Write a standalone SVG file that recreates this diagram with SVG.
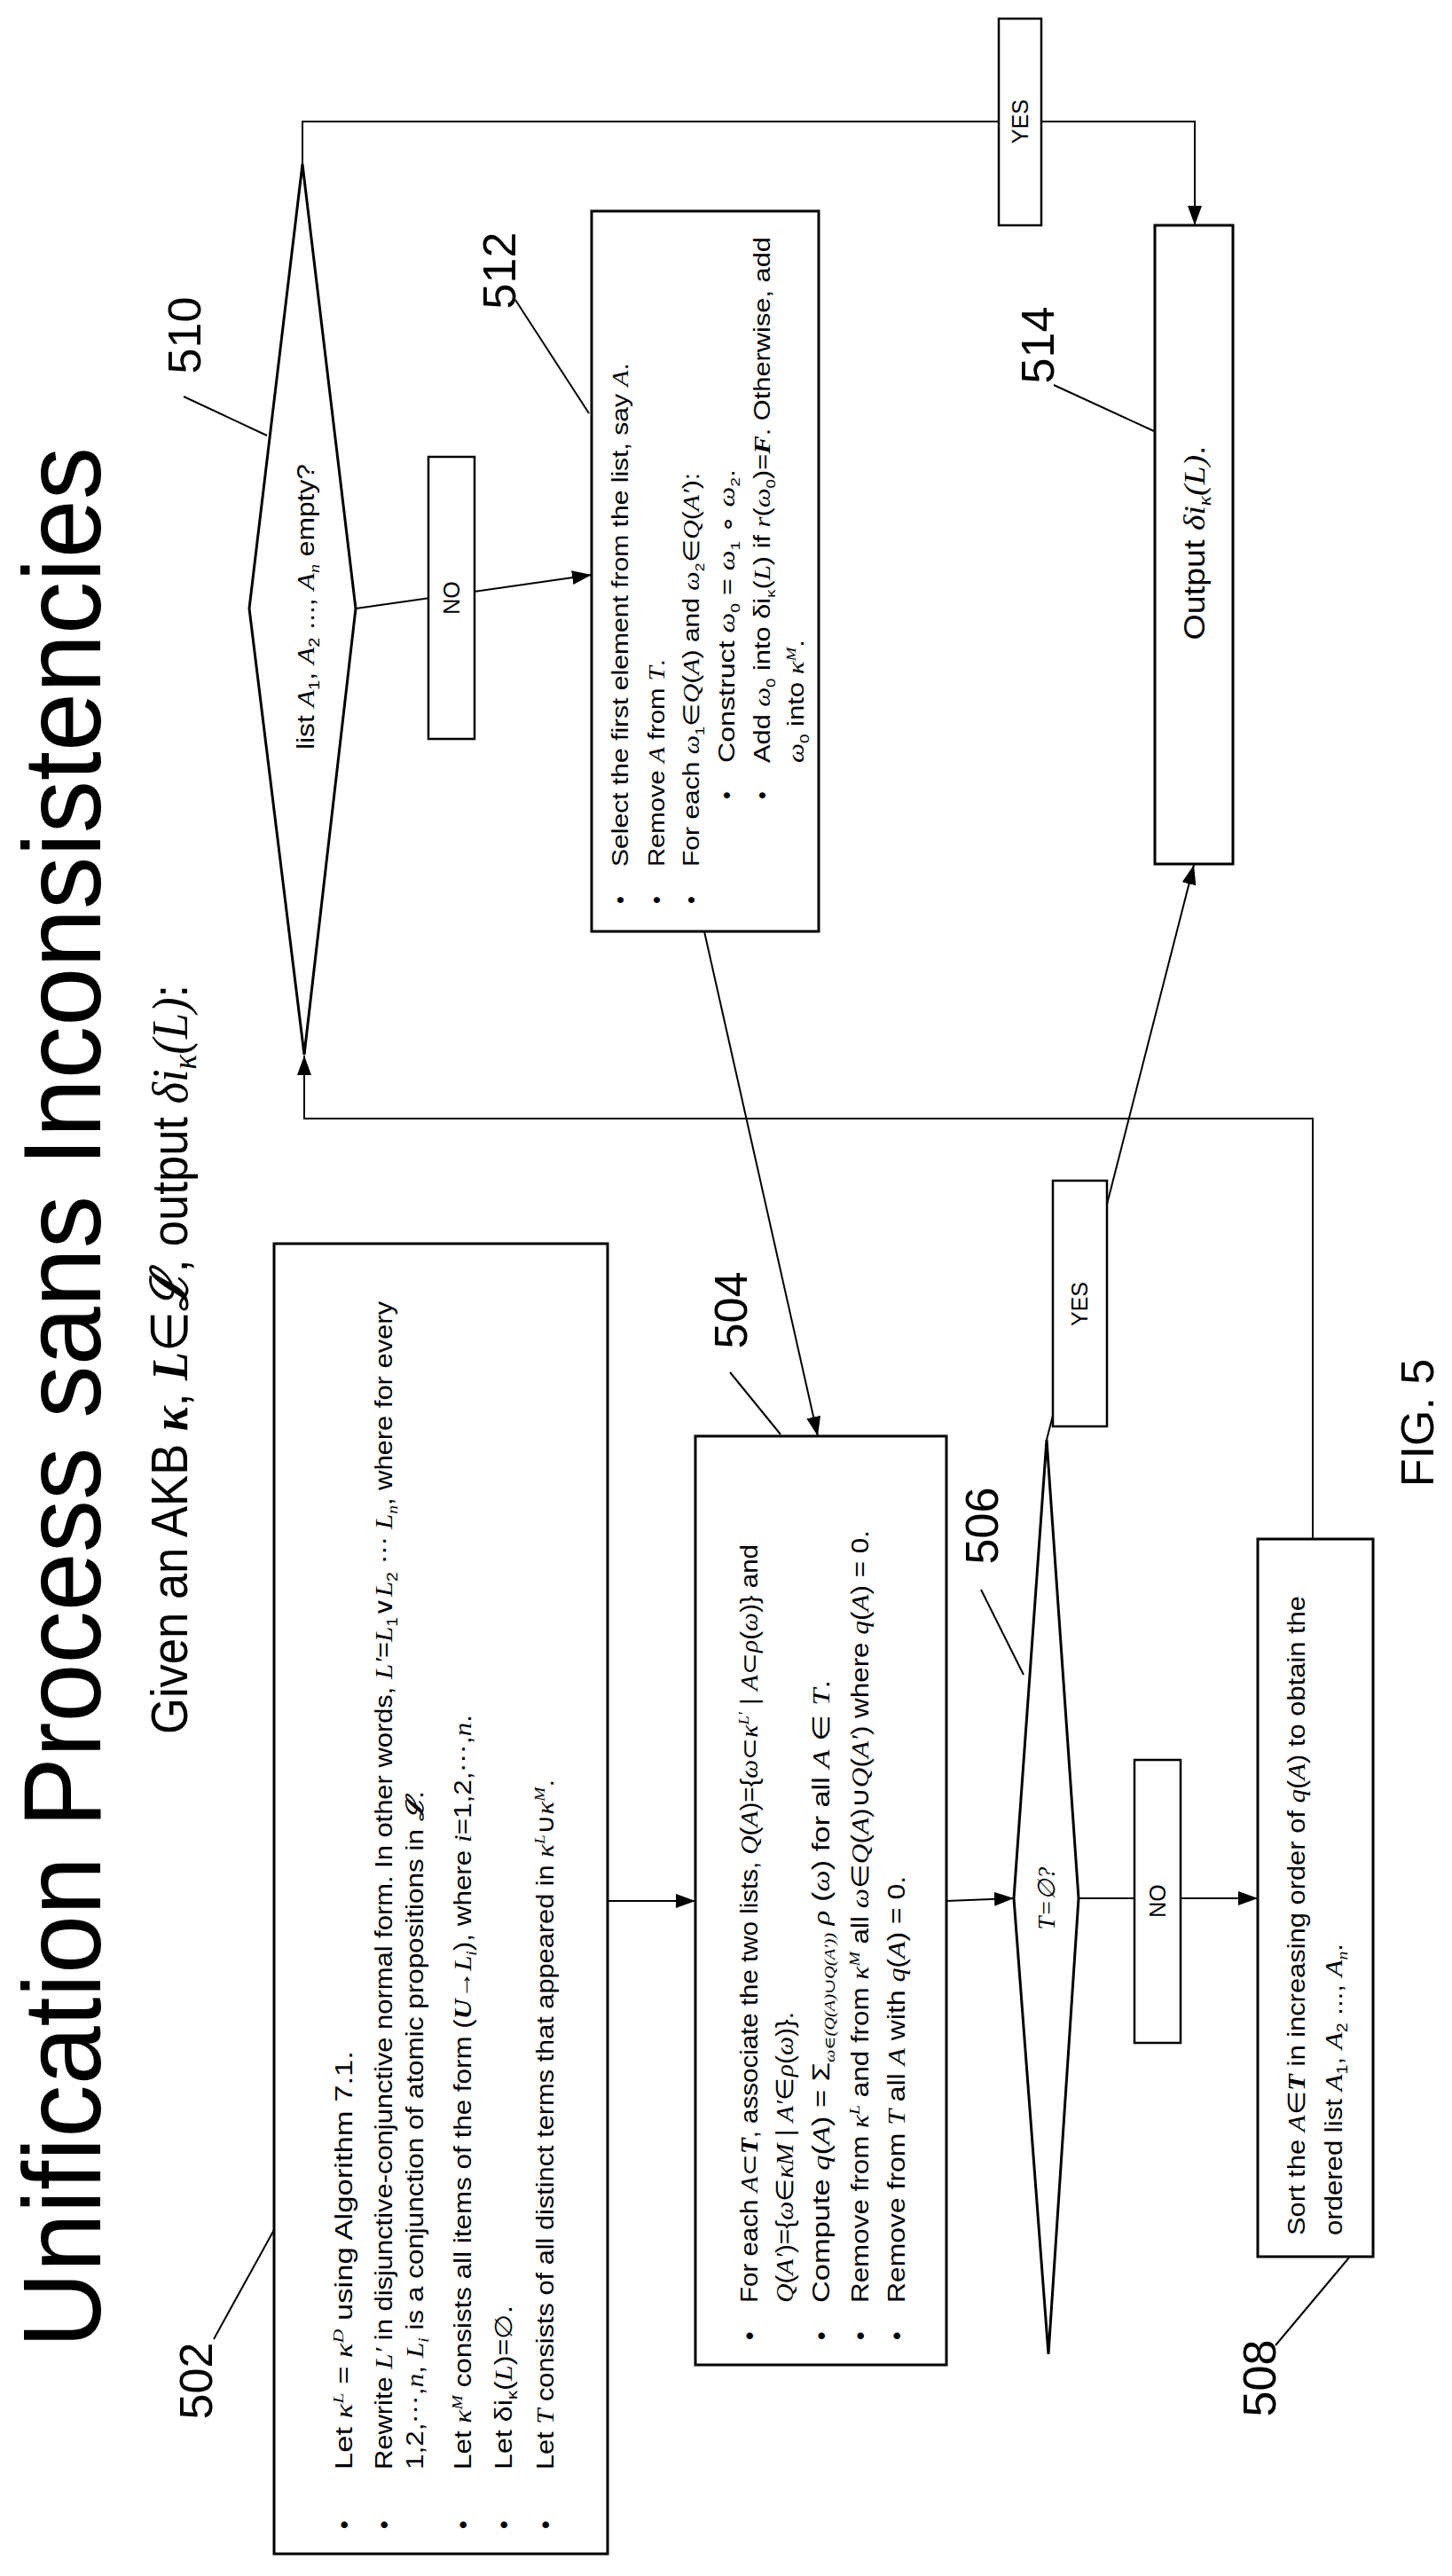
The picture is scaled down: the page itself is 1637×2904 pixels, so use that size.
<svg xmlns="http://www.w3.org/2000/svg" width="1637" height="2904" viewBox="0 0 1637 2904">
<style>
text{font-family:"Liberation Sans",Arial,sans-serif;fill:#000}
.box{fill:#fff;stroke:#000;stroke-width:3}
.lab{fill:#fff;stroke:#000;stroke-width:2.5}
.ln{fill:none;stroke:#000;stroke-width:2}
.t{font-size:27px}
.s{font-size:25px}
.num{font-size:52px;text-anchor:middle}
.m{font-family:"Liberation Serif","DejaVu Serif",serif;font-style:italic}
.mb{font-family:"Liberation Serif","DejaVu Serif",serif;font-style:italic;font-weight:bold}
.c{text-anchor:middle}
</style>
<defs>
<marker id="ah" markerUnits="userSpaceOnUse" markerWidth="24" markerHeight="16" refX="22" refY="8" orient="auto"><path d="M0,0 L22,8 L0,16 Z" fill="#000"/></marker>
</defs>
<rect width="1637" height="2904" fill="#fff"/>

<g id="title">
<text x="113" y="2647" transform="rotate(-90 113 2647)" font-size="124" textLength="2143" lengthAdjust="spacingAndGlyphs">Unification Process sans Inconsistencies</text>
<text x="211" y="1955" transform="rotate(-90 211 1955)" font-size="58" textLength="845" lengthAdjust="spacingAndGlyphs">Given an AKB <tspan class="mb">κ</tspan>, <tspan class="mb">L</tspan>∈<tspan class="mb">ℒ</tspan>, output <tspan class="m">δi</tspan><tspan class="m" font-size="38" dy="10">κ</tspan><tspan class="m" dy="-10">(L)</tspan>:</text>
</g>

<g id="connectors">
<line class="ln" x1="685" y1="2143" x2="784" y2="2143" marker-end="url(#ah)"/>
<line class="ln" x1="1067" y1="2143" x2="1143" y2="2140" marker-end="url(#ah)"/>
<line class="ln" x1="1216" y1="2140" x2="1418" y2="2140" marker-end="url(#ah)"/>
<polyline class="ln" points="1480,1735 1480,1261 343,1261 343,1190" marker-end="url(#ah)"/>
<line class="ln" x1="1180" y1="1623" x2="1346" y2="975" marker-end="url(#ah)"/>
<polyline class="ln" points="341,185 341,137 1347,137 1347,254" marker-end="url(#ah)"/>
<line class="ln" x1="401" y1="686" x2="667" y2="648" marker-end="url(#ah)"/>
<line class="ln" x1="794" y1="1050" x2="922" y2="1619" marker-end="url(#ah)"/>
<line class="ln" x1="241" y1="2637" x2="316" y2="2501"/>
<line class="ln" x1="823" y1="1547" x2="880" y2="1617"/>
<line class="ln" x1="1106" y1="1792" x2="1154" y2="1888"/>
<line class="ln" x1="1438" y1="2644" x2="1521" y2="2545"/>
<line class="ln" x1="207" y1="447" x2="301" y2="491"/>
<line class="ln" x1="581" y1="338" x2="664" y2="466"/>
<line class="ln" x1="1188" y1="434" x2="1301" y2="486"/>
</g>

<g id="n502">
<rect class="box" x="309" y="1402" width="376" height="1477"/>
<text class="num" x="239" y="2684" transform="rotate(-90 239 2684)">502</text>
<g class="t">
<text x="397" y="2851" transform="rotate(-90 397 2851)">•</text>
<text x="442" y="2851" transform="rotate(-90 442 2851)">•</text>
<text x="531" y="2851" transform="rotate(-90 531 2851)">•</text>
<text x="577" y="2851" transform="rotate(-90 577 2851)">•</text>
<text x="624" y="2851" transform="rotate(-90 624 2851)">•</text>
<text x="397" y="2784" transform="rotate(-90 397 2784)" textLength="472" lengthAdjust="spacingAndGlyphs">Let <tspan class="m">κ</tspan><tspan class="m" font-size="17" dy="-10">L</tspan><tspan dy="10"> = </tspan><tspan class="m">κ</tspan><tspan class="m" font-size="17" dy="-10">D</tspan><tspan dy="10"> using Algorithm 7.1.</tspan></text>
<text x="442" y="2784" transform="rotate(-90 442 2784)" textLength="1317" lengthAdjust="spacingAndGlyphs">Rewrite <tspan class="m">L′</tspan> in disjunctive-conjunctive normal form. In other words, <tspan class="m">L′</tspan>=<tspan class="m">L</tspan><tspan font-size="17" dy="6">1</tspan><tspan dy="-6">∨</tspan><tspan class="m">L</tspan><tspan font-size="17" dy="6">2</tspan><tspan dy="-6"> ⋯ </tspan><tspan class="m">L</tspan><tspan class="m" font-size="17" dy="6">n</tspan><tspan dy="-6">, where for every</tspan></text>
<text x="477" y="2784" transform="rotate(-90 477 2784)" textLength="765" lengthAdjust="spacingAndGlyphs">1,2,⋯,<tspan class="m">n</tspan>, <tspan class="m">L</tspan><tspan class="m" font-size="17" dy="6">i</tspan><tspan dy="-6"> is a conjunction of atomic propositions in </tspan><tspan class="mb">ℒ</tspan>.</text>
<text x="531" y="2784" transform="rotate(-90 531 2784)" textLength="851" lengthAdjust="spacingAndGlyphs">Let <tspan class="m">κ</tspan><tspan class="m" font-size="17" dy="-10">M</tspan><tspan dy="10"> consists all items of the form (</tspan><tspan class="mb">U</tspan>→<tspan class="m">L</tspan><tspan class="m" font-size="17" dy="6">i</tspan><tspan dy="-6">), where </tspan><tspan class="m">i</tspan>=1,2,⋯,<tspan class="m">n</tspan>.</text>
<text x="577" y="2784" transform="rotate(-90 577 2784)" textLength="185" lengthAdjust="spacingAndGlyphs">Let δi<tspan font-size="17" dy="6">κ</tspan><tspan dy="-6">(</tspan><tspan class="m">L</tspan>)=∅.</text>
<text x="624" y="2784" transform="rotate(-90 624 2784)" textLength="778" lengthAdjust="spacingAndGlyphs">Let <tspan class="m">T</tspan> consists of all distinct terms that appeared in <tspan class="m">κ</tspan><tspan class="m" font-size="17" dy="-10">L</tspan><tspan dy="10">∪</tspan><tspan class="m">κ</tspan><tspan class="m" font-size="17" dy="-10">M</tspan><tspan dy="10">.</tspan></text>
</g>
</g>

<g id="n504">
<rect class="box" x="784" y="1619" width="283" height="1047"/>
<text class="num" x="842" y="1477" transform="rotate(-90 842 1477)">504</text>
<g class="t">
<text x="854" y="2638" transform="rotate(-90 854 2638)">•</text>
<text x="935" y="2638" transform="rotate(-90 935 2638)">•</text>
<text x="979" y="2638" transform="rotate(-90 979 2638)">•</text>
<text x="1020" y="2638" transform="rotate(-90 1020 2638)">•</text>
<text x="854" y="2596" transform="rotate(-90 854 2596)" textLength="855" lengthAdjust="spacingAndGlyphs">For each <tspan class="m">A</tspan>⊂<tspan class="mb">T</tspan>, associate the two lists, <tspan class="m">Q</tspan>(<tspan class="m">A</tspan>)={<tspan class="m">ω</tspan>⊂<tspan class="m">κ</tspan><tspan class="m" font-size="17" dy="-10">L′</tspan><tspan dy="10"> | </tspan><tspan class="m">A</tspan>⊂<tspan class="m">ρ</tspan>(<tspan class="m">ω</tspan>)} and</text>
<text x="894" y="2596" transform="rotate(-90 894 2596)" textLength="328" lengthAdjust="spacingAndGlyphs"><tspan class="m">Q</tspan>(<tspan class="m">A′</tspan>)={<tspan class="m">ω</tspan>∈<tspan class="m">κM</tspan> | <tspan class="m">A′</tspan>∈<tspan class="m">ρ</tspan>(<tspan class="m">ω</tspan>)}.</text>
<text x="935" y="2596" transform="rotate(-90 935 2596)" textLength="702" lengthAdjust="spacingAndGlyphs">Compute <tspan class="m">q</tspan>(<tspan class="m">A</tspan>) = Σ<tspan class="m" font-size="16" dy="6">ω∈(Q(A)∪Q(A′))</tspan><tspan class="m" dy="-6"> ρ</tspan> (<tspan class="m">ω</tspan>) for all <tspan class="m">A</tspan> ∈ <tspan class="m">T</tspan>.</text>
<text x="979" y="2596" transform="rotate(-90 979 2596)" textLength="871" lengthAdjust="spacingAndGlyphs">Remove from <tspan class="m">κ</tspan><tspan class="m" font-size="17" dy="-10">L</tspan><tspan dy="10"> and from </tspan><tspan class="m">κ</tspan><tspan class="m" font-size="17" dy="-10">M</tspan><tspan dy="10"> all </tspan><tspan class="m">ω</tspan>∈<tspan class="m">Q</tspan>(<tspan class="m">A</tspan>)∪<tspan class="m">Q</tspan>(<tspan class="m">A′</tspan>) where <tspan class="m">q</tspan>(<tspan class="m">A</tspan>) = 0.</text>
<text x="1020" y="2596" transform="rotate(-90 1020 2596)" textLength="481" lengthAdjust="spacingAndGlyphs">Remove from <tspan class="m">T</tspan> all <tspan class="m">A</tspan> with <tspan class="m">q</tspan>(<tspan class="m">A</tspan>) = 0.</text>
</g>
</g>

<g id="n506">
<polygon class="box" points="1180,1623 1216,2140 1182,2654 1143,2140"/>
<text class="t c m" x="1189" y="2140" transform="rotate(-90 1189 2140)">T=∅?</text>
<text class="num" x="1125" y="1720" transform="rotate(-90 1125 1720)">506</text>
</g>

<g id="yes506">
<rect class="lab" x="1187" y="1331" width="61" height="277"/>
<text class="s c" x="1226" y="1470" transform="rotate(-90 1226 1470)">YES</text>
</g>

<g id="no506">
<rect class="lab" x="1279" y="1984" width="52" height="319"/>
<text class="s c" x="1314" y="2143" transform="rotate(-90 1314 2143)">NO</text>
</g>

<g id="n508">
<rect class="box" x="1418" y="1735" width="130" height="809"/>
<text class="num" x="1438" y="2681" transform="rotate(-90 1438 2681)">508</text>
<text class="t" x="1471" y="2520" transform="rotate(-90 1471 2520)" textLength="721" lengthAdjust="spacingAndGlyphs">Sort the <tspan class="m">A</tspan>∈<tspan class="mb">T</tspan> in increasing order of <tspan class="m">q</tspan>(<tspan class="m">A</tspan>) to obtain the</text>
<text class="t" x="1513" y="2520" transform="rotate(-90 1513 2520)" textLength="329" lengthAdjust="spacingAndGlyphs">ordered list <tspan class="m">A</tspan><tspan font-size="17" dy="6">1</tspan><tspan dy="-6">, </tspan><tspan class="m">A</tspan><tspan font-size="17" dy="6">2</tspan><tspan dy="-6"> ..., </tspan><tspan class="m">A</tspan><tspan class="m" font-size="17" dy="6">n</tspan><tspan dy="-6">.</tspan></text>
</g>

<g id="n510">
<polygon class="box" points="341,185 401,686 343,1189 281,686"/>
<text class="c" font-size="27" x="354" y="684" transform="rotate(-90 354 684)" textLength="322" lengthAdjust="spacingAndGlyphs">list <tspan class="m">A</tspan><tspan font-size="17" dy="6">1</tspan><tspan dy="-6">, </tspan><tspan class="m">A</tspan><tspan font-size="17" dy="6">2</tspan><tspan dy="-6"> ..., </tspan><tspan class="m">A</tspan><tspan class="m" font-size="17" dy="6">n</tspan><tspan dy="-6">  empty?</tspan></text>
<text class="num" x="226" y="378" transform="rotate(-90 226 378)">510</text>
</g>

<g id="yes510">
<rect class="lab" x="1126" y="21" width="48" height="233"/>
<text class="s c" x="1159" y="137" transform="rotate(-90 1159 137)">YES</text>
</g>

<g id="no510">
<rect class="lab" x="483" y="515" width="52" height="318"/>
<text class="s c" x="518" y="674" transform="rotate(-90 518 674)">NO</text>
</g>

<g id="n512">
<rect class="box" x="667" y="238" width="256" height="812"/>
<text class="num" x="581" y="305" transform="rotate(-90 581 305)">512</text>
<g class="s">
<text x="708" y="1019" transform="rotate(-90 708 1019)">•</text>
<text x="749" y="1019" transform="rotate(-90 749 1019)">•</text>
<text x="788" y="1019" transform="rotate(-90 788 1019)">•</text>
<text x="828" y="901" transform="rotate(-90 828 901)">•</text>
<text x="868" y="901" transform="rotate(-90 868 901)">•</text>
<text x="708" y="977" transform="rotate(-90 708 977)" textLength="568" lengthAdjust="spacingAndGlyphs">Select the first element from the list, say <tspan class="m">A</tspan>.</text>
<text x="749" y="977" transform="rotate(-90 749 977)" textLength="234" lengthAdjust="spacingAndGlyphs">Remove <tspan class="m">A</tspan> from <tspan class="m">T</tspan>.</text>
<text x="788" y="977" transform="rotate(-90 788 977)" textLength="444" lengthAdjust="spacingAndGlyphs">For each <tspan class="m">ω</tspan><tspan font-size="15" dy="6">1</tspan><tspan dy="-6">∈</tspan><tspan class="m">Q</tspan>(<tspan class="m">A</tspan>) and <tspan class="m">ω</tspan><tspan font-size="15" dy="6">2</tspan><tspan dy="-6">∈</tspan><tspan class="m">Q</tspan>(<tspan class="m">A′</tspan>):</text>
<text x="828" y="860" transform="rotate(-90 828 860)" textLength="331" lengthAdjust="spacingAndGlyphs">Construct <tspan class="m">ω</tspan><tspan font-size="15" dy="6">0</tspan><tspan dy="-6"> = </tspan><tspan class="m">ω</tspan><tspan font-size="15" dy="6">1</tspan><tspan dy="-6"> ∘ </tspan><tspan class="m">ω</tspan><tspan font-size="15" dy="6">2</tspan><tspan dy="-6">.</tspan></text>
<text x="868" y="860" transform="rotate(-90 868 860)" textLength="593" lengthAdjust="spacingAndGlyphs">Add <tspan class="m">ω</tspan><tspan font-size="15" dy="6">0</tspan><tspan dy="-6"> into δi</tspan><tspan font-size="15" dy="6">κ</tspan><tspan dy="-6">(</tspan><tspan class="m">L</tspan>) if <tspan class="m">r</tspan>(<tspan class="m">ω</tspan><tspan font-size="15" dy="6">0</tspan><tspan dy="-6">)=</tspan><tspan class="mb">F</tspan>. Otherwise, add</text>
<text x="906" y="860" transform="rotate(-90 906 860)" textLength="139" lengthAdjust="spacingAndGlyphs"><tspan class="m">ω</tspan><tspan font-size="15" dy="6">0</tspan><tspan dy="-6"> into </tspan><tspan class="m">κ</tspan><tspan class="m" font-size="15" dy="-9">M</tspan><tspan dy="9">.</tspan></text>
</g>
</g>

<g id="n514">
<rect class="box" x="1302" y="254" width="88" height="720"/>
<text class="num" x="1188" y="389" transform="rotate(-90 1188 389)">514</text>
<text x="1358" y="612" transform="rotate(-90 1358 612)" font-size="34" class="c" textLength="219" lengthAdjust="spacingAndGlyphs">Output <tspan class="m">δi</tspan><tspan class="m" font-size="21" dy="7">κ</tspan><tspan class="m" dy="-7">(L)</tspan>.</text>
</g>

<g id="fig">
<text x="1616" y="1604" transform="rotate(-90 1616 1604)" font-size="52" class="c">FIG. 5</text>
</g>
</svg>
